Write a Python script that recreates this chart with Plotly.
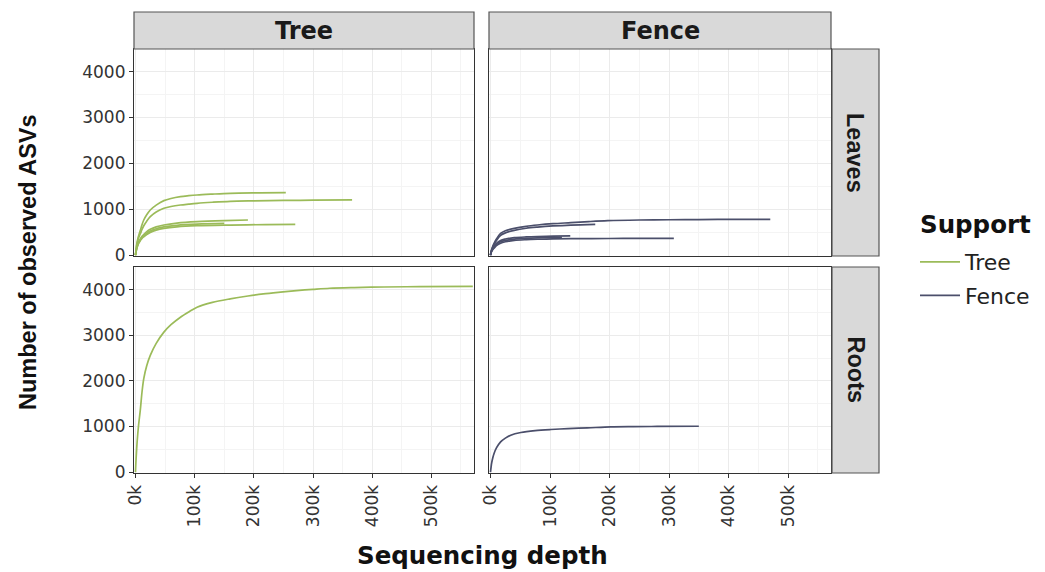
import plotly.graph_objects as go

W, H = 1045, 572

# ---------------- data (depth in reads, observed ASVs) ----------------
tree_leaves_depth_a = [0, 1000, 2000, 4000, 6000, 8400, 11000, 14000, 19000, 25000, 35000, 48000, 60000, 76000, 90000, 104000, 130000, 160000, 210000, 254000]
tree_leaves_asv_a = [0, 120, 230, 360, 450, 546, 660, 765, 880, 984, 1090, 1188, 1235, 1275, 1295, 1311, 1330, 1348, 1357, 1362]
tree_leaves_depth_b = [0, 1000, 2000, 4000, 6000, 8400, 11000, 14000, 19000, 25000, 35000, 48000, 60000, 76000, 90000, 104000, 130000, 160000, 200000, 250000, 300000, 366000]
tree_leaves_asv_b = [0, 110, 200, 320, 400, 470, 560, 640, 740, 838, 940, 1020, 1060, 1093, 1112, 1129, 1152, 1173, 1183, 1192, 1197, 1202]
tree_leaves_depth_c = [0, 1000, 2000, 4000, 6000, 8400, 11000, 14000, 19000, 25000, 35000, 48000, 70000, 104000, 150000, 190000]
tree_leaves_asv_c = [0, 85, 150, 240, 305, 360, 410, 450, 510, 561, 615, 656, 697, 729, 752, 765]
tree_leaves_depth_d = [0, 1000, 2000, 4000, 6000, 8400, 11000, 14000, 19000, 25000, 35000, 48000, 70000, 104000, 160000, 220000, 270000]
tree_leaves_asv_d = [0, 75, 130, 215, 270, 320, 365, 400, 450, 495, 545, 583, 617, 641, 655, 665, 671]
tree_leaves_depth_e = [0, 1000, 2000, 4000, 6000, 8400, 11000, 14000, 19000, 25000, 35000, 48000, 70000, 104000, 150000]
tree_leaves_asv_e = [0, 80, 140, 225, 290, 340, 390, 425, 480, 525, 575, 615, 650, 675, 690]

fence_leaves_depth_a = [0, 1000, 2000, 4000, 6000, 10000, 17000, 25000, 40000, 60000, 79000, 105000, 135000, 165000, 197000, 250000, 300000, 350000, 410000, 470000]
fence_leaves_asv_a = [0, 70, 120, 195, 255, 350, 473, 530, 583, 628, 656, 685, 707, 730, 750, 765, 771, 775, 778, 780]
fence_leaves_depth_b = [0, 1000, 2000, 4000, 6000, 10000, 17000, 25000, 40000, 60000, 79000, 105000, 135000, 176000]
fence_leaves_asv_b = [0, 65, 110, 180, 230, 320, 430, 485, 540, 585, 610, 635, 655, 670]
fence_leaves_depth_c = [0, 1000, 2000, 4000, 6000, 10000, 17000, 25000, 40000, 60000, 79000, 105000, 135000, 200000, 250000, 308000]
fence_leaves_asv_c = [0, 45, 80, 120, 150, 205, 260, 290, 320, 336, 345, 352, 358, 362, 364, 366]
fence_leaves_depth_d = [0, 1000, 2000, 4000, 6000, 10000, 17000, 25000, 40000, 60000, 79000, 105000, 134000]
fence_leaves_asv_d = [0, 60, 100, 150, 190, 255, 320, 350, 380, 396, 405, 413, 420]
fence_leaves_depth_e = [0, 1000, 2000, 4000, 6000, 10000, 17000, 25000, 40000, 60000, 79000, 100000, 120000]
fence_leaves_asv_e = [0, 55, 90, 135, 170, 230, 290, 320, 350, 366, 375, 381, 385]

tree_roots_depth = [0, 1000, 3000, 5000, 8400, 11000, 14000, 19000, 25000, 35000, 48000, 60000, 76000, 90000, 104000, 130000, 160000, 190000, 216000, 245000, 272000, 300000, 328000, 370000, 420000, 480000, 570000]
tree_roots_asv = [0, 280, 700, 1000, 1392, 1750, 2048, 2330, 2557, 2820, 3067, 3230, 3395, 3510, 3614, 3720, 3797, 3860, 3906, 3945, 3978, 4005, 4029, 4045, 4057, 4064, 4070]

fence_roots_depth = [0, 1000, 2000, 4000, 6000, 10000, 17000, 25000, 34000, 51000, 75000, 101000, 130000, 163000, 202000, 240000, 280000, 350000]
fence_roots_asv = [0, 110, 200, 320, 408, 530, 663, 745, 809, 867, 908, 933, 953, 969, 991, 997, 1000, 1005]

supports = ["Tree", "Fence"]
organs = ["Leaves", "Roots"]
y_ticks = [0, 1000, 2000, 3000, 4000]
x_ticks = [0, 100000, 200000, 300000, 400000, 500000]
x_tick_labels = ["0k", "100k", "200k", "300k", "400k", "500k"]

colors = {"Tree": "#9BBB59", "Fence": "#4B4F6B"}

# ---------------- layout geometry (pixels) ----------------
col_px = [(134, 474), (489, 831)]
row_px = [(49, 256), (267, 473)]
strip_top = (12, 49)
strip_right = (832, 879)

def fx(px):
    return px / W

def fy(py):
    return 1 - py / H

fig = go.Figure()

curves = [
    ("Tree", 0, 0, [(tree_leaves_depth_a, tree_leaves_asv_a), (tree_leaves_depth_b, tree_leaves_asv_b),
                    (tree_leaves_depth_c, tree_leaves_asv_c), (tree_leaves_depth_d, tree_leaves_asv_d),
                    (tree_leaves_depth_e, tree_leaves_asv_e)]),
    ("Fence", 0, 1, [(fence_leaves_depth_a, fence_leaves_asv_a), (fence_leaves_depth_b, fence_leaves_asv_b),
                     (fence_leaves_depth_c, fence_leaves_asv_c), (fence_leaves_depth_d, fence_leaves_asv_d),
                     (fence_leaves_depth_e, fence_leaves_asv_e)]),
    ("Tree", 1, 0, [(tree_roots_depth, tree_roots_asv)]),
    ("Fence", 1, 1, [(fence_roots_depth, fence_roots_asv)]),
]

shown = set()
for support, r, c, lst in curves:
    idx = r * 2 + c + 1
    xa = "x" if idx == 1 else f"x{idx}"
    ya = "y" if idx == 1 else f"y{idx}"
    for d, v in lst:
        fig.add_trace(go.Scatter(
            x=d, y=v, mode="lines", xaxis=xa, yaxis=ya,
            line=dict(color=colors[support], width=1.7, shape="spline", smoothing=0.9),
            name=support, legendgroup=support,
            showlegend=support not in shown, hoverinfo="skip"))
        shown.add(support)

grid = "#EBEBEB"
tick_font = dict(family="DejaVu Sans", size=17, color="#333333")
axis_common = dict(showline=True, mirror=True, linecolor="#333333", linewidth=1.2,
                   gridcolor=grid, gridwidth=1.4, zeroline=False, automargin=False,
                   ticks="outside", ticklen=4, tickcolor="#333333", tickwidth=1.2,
                   tickfont=tick_font)

layout = dict(width=W, height=H, margin=dict(l=0, r=0, t=0, b=0, pad=0),
              plot_bgcolor="white", paper_bgcolor="white", showlegend=True)

for r in range(2):
    for c in range(2):
        idx = r * 2 + c + 1
        xk = "xaxis" if idx == 1 else f"xaxis{idx}"
        yk = "yaxis" if idx == 1 else f"yaxis{idx}"
        xa_anchor = "y" if idx == 1 else f"y{idx}"
        ya_anchor = "x" if idx == 1 else f"x{idx}"
        x0, x1 = col_px[c]
        y0, y1 = row_px[r]
        xd = dict(axis_common)
        xd.update(domain=[fx(x0), fx(x1)], anchor=xa_anchor, range=[-2500, 572000],
                  tickvals=x_ticks, ticktext=x_tick_labels, tickangle=-90,
                  showticklabels=(r == 1),
                  minor=dict(showgrid=True, gridcolor="#F4F4F4", gridwidth=0.8, dtick=50000, tick0=0))
        if r == 0:
            xd["ticks"] = ""
        yd = dict(axis_common)
        yd.update(domain=[fy(y1), fy(y0)], anchor=ya_anchor, range=[-20, 4495],
                  tickvals=y_ticks, showticklabels=(c == 0),
                  minor=dict(showgrid=True, gridcolor="#F4F4F4", gridwidth=0.8, dtick=500, tick0=0))
        if c == 1:
            yd["ticks"] = ""
        layout[xk] = xd
        layout[yk] = yd

shapes = []
annotations = []
for c, lab in enumerate(supports):
    x0, x1 = col_px[c]
    shapes.append(dict(type="rect", xref="paper", yref="paper",
                       x0=fx(x0), x1=fx(x1), y0=fy(strip_top[1]), y1=fy(strip_top[0]),
                       fillcolor="#D9D9D9", line=dict(color="#555555", width=1.2)))
    annotations.append(dict(text=f"<b>{lab}</b>", xref="paper", yref="paper",
                            x=fx((x0 + x1) / 2), y=fy((strip_top[0] + strip_top[1]) / 2),
                            showarrow=False, font=dict(family="DejaVu Sans", size=24, color="#1a1a1a"),
                            xanchor="center", yanchor="middle"))
for r, lab in enumerate(organs):
    y0, y1 = row_px[r]
    shapes.append(dict(type="rect", xref="paper", yref="paper",
                       x0=fx(strip_right[0]), x1=fx(strip_right[1]), y0=fy(y1), y1=fy(y0),
                       fillcolor="#D9D9D9", line=dict(color="#555555", width=1.2)))
    annotations.append(dict(text=f"<b>{lab}</b>", xref="paper", yref="paper",
                            x=fx((strip_right[0] + strip_right[1]) / 2), y=fy((y0 + y1) / 2),
                            showarrow=False, font=dict(family="Liberation Sans", size=23.5, color="#1a1a1a"),
                            textangle=90, xanchor="center", yanchor="middle"))

annotations.append(dict(text="<b>Sequencing depth</b>", xref="paper", yref="paper",
                        x=fx(482), y=fy(555), showarrow=False,
                        font=dict(family="DejaVu Sans", size=24.5, color="#111111"),
                        xanchor="center", yanchor="middle"))
annotations.append(dict(text="<b>Number of observed ASVs</b>", xref="paper", yref="paper",
                        x=fx(28), y=fy(262), showarrow=False,
                        font=dict(family="Liberation Sans", size=23.5, color="#111111"),
                        textangle=-90, xanchor="center", yanchor="middle"))
annotations.append(dict(text="<b>Support</b>", xref="paper", yref="paper",
                        x=fx(918), y=fy(224), showarrow=False,
                        font=dict(family="DejaVu Sans", size=24.5, color="#111111"),
                        xanchor="left", yanchor="middle"))

layout["shapes"] = shapes
layout["annotations"] = annotations
layout["legend"] = dict(x=fx(915), y=fy(241), xanchor="left", yanchor="top",
                        font=dict(family="DejaVu Sans", size=22, color="#222222"),
                        bgcolor="rgba(0,0,0,0)", tracegroupgap=2, traceorder="grouped",
                        itemwidth=40)

fig.update_layout(**layout)
fig.write_html("out.html", config={"displayModeBar": False},
               post_script="document.body.style.margin='0';document.body.style.overflow='hidden';")
